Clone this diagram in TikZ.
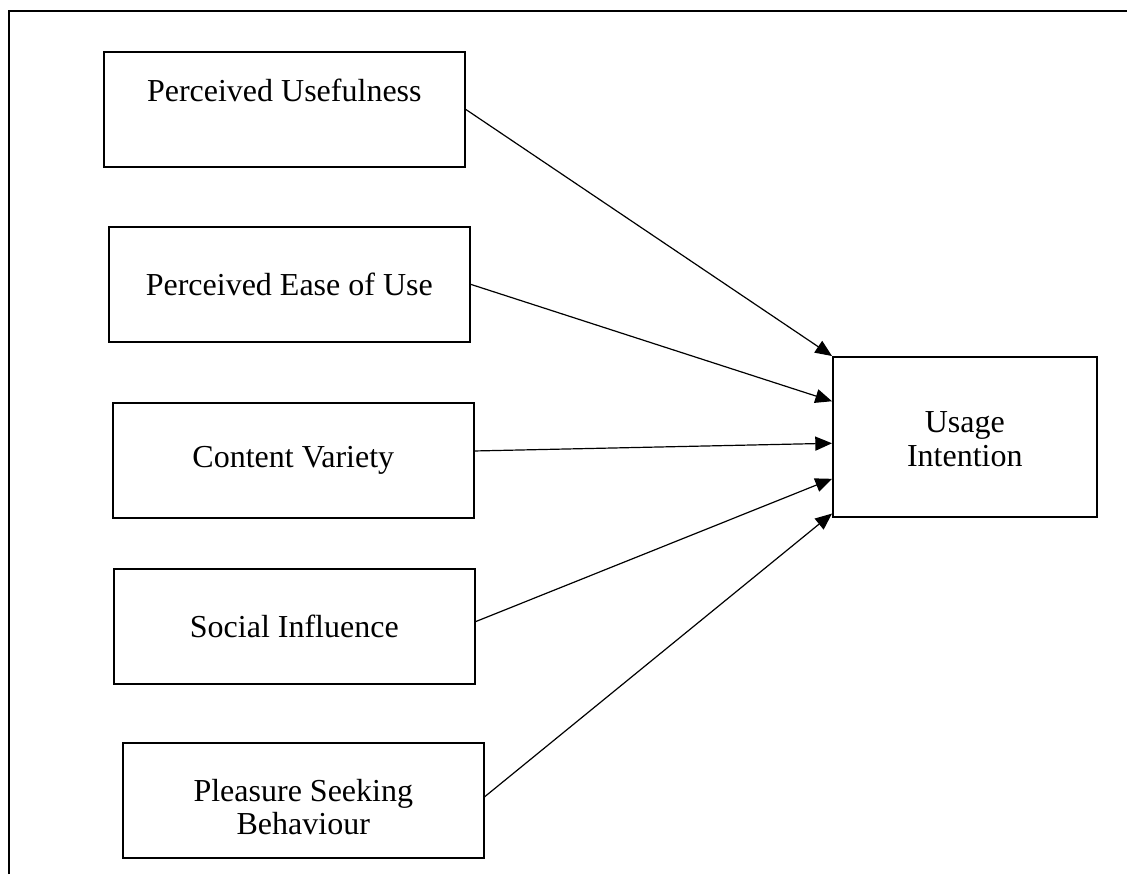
\documentclass[tikz,border=0pt]{standalone}
\usepackage{fontspec}
\setmainfont{Liberation Serif}
\usetikzlibrary{arrows.meta,calc}

\begin{document}
\begin{tikzpicture}[x=0.75pt,y=-0.75pt,
  construct/.style={draw,line width=1.2pt,anchor=north west,minimum width=270.75pt,minimum height=86.25pt,align=center,inner sep=0pt,font=\fontsize{24}{25}\selectfont},
  link/.style={-{Triangle[length=12.5pt,width=10.5pt]},line width=0.9pt}]
\useasboundingbox (0,0) rectangle (1127,874);
\draw[line width=1.8pt] (9,874)--(9,11)--(1127,11);
\node[construct,text depth=28pt] (pu) at (103,51) {Perceived Usefulness};
\node[construct] (peou) at (108,226) {Perceived Ease of Use};
\node[construct] (cv) at (112,402) {Content Variety};
\node[construct] (si) at (113,568) {Social Influence};
\node[construct,text height=52pt] (psb) at (122,742) {Pleasure Seeking\\Behaviour};
\node[construct,minimum width=198pt,minimum height=120pt,font=\fontsize{24}{26}\selectfont,text height=45.5pt] (ui) at (832,356) {Usage\\Intention};
\draw[link] (pu.east)--(ui.north west);
\draw[link] (peou.east)--($(ui.north west)!0.28!(ui.south west)$);
\draw[link] ($(cv.north east)!0.42!(cv.south east)$)--($(ui.north west)!0.54!(ui.south west)$);
\draw[link] ($(si.north east)!0.46!(si.south east)$)--($(ui.north west)!0.76!(ui.south west)$);
\draw[link] ($(psb.north east)!0.47!(psb.south east)$)--($(ui.north west)!0.975!(ui.south west)$);
\end{tikzpicture}
\end{document}
